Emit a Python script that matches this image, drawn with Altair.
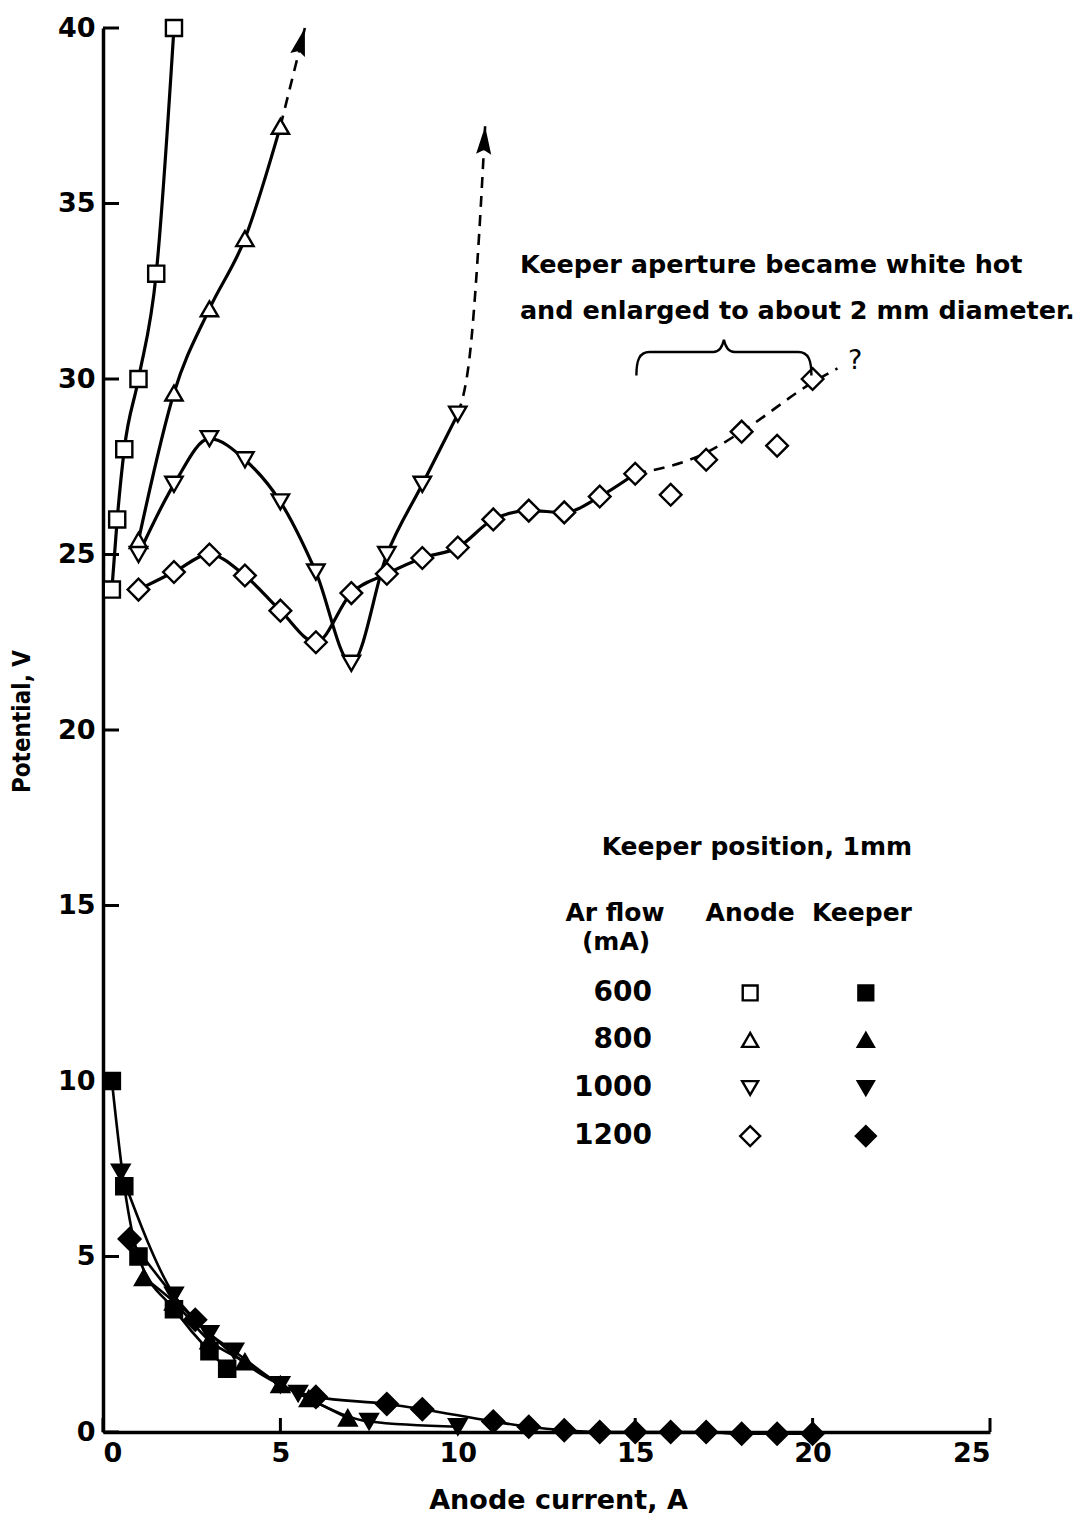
import altair as alt
import pandas as pd

# ---------------- data ----------------
# Anode potential (open symbols), keeper 1 mm from cathode
a600_x = [0.25, 0.4, 0.6, 1.0, 1.5, 2.0]
a600_y = [24.0, 26.0, 28.0, 30.0, 33.0, 40.0]

a800_x = [1.0, 2.0, 3.0, 4.0, 5.0]
a800_y = [25.4, 29.6, 32.0, 34.0, 37.2]
a800_ext_x = [5.0, 5.69]
a800_ext_y = [37.2, 40.0]

a1000_x = [1.0, 2.0, 3.0, 4.0, 5.0, 6.0, 7.0, 8.0, 9.0, 10.0]
a1000_y = [25.0, 27.0, 28.3, 27.7, 26.5, 24.5, 21.9, 25.0, 27.0, 29.0]
a1000_ext_x = [10.0, 10.4, 10.6, 10.77]
a1000_ext_y = [29.0, 31.3, 34.1, 37.2]

a1200_x = [1, 2, 3, 4, 5, 6, 7, 8, 9, 10, 11, 12, 13, 14, 15, 16, 17, 18, 19, 20]
a1200_y = [24.0, 24.5, 25.0, 24.4, 23.4, 22.5, 23.9, 24.45, 24.9, 25.2,
           26.0, 26.25, 26.2, 26.65, 27.3, 26.7, 27.7, 28.5, 28.1, 30.0]
a1200_solid_end = 15
a1200_ext_x = [15.0, 17.0, 18.0, 20.0, 20.7]
a1200_ext_y = [27.3, 27.9, 28.5, 29.9, 30.3]

# Keeper potential (filled symbols)
k600_x = [0.25, 0.6, 1.0, 2.0, 3.0, 3.5]
k600_y = [10.0, 7.0, 5.0, 3.5, 2.3, 1.8]

k800_x = [1.15, 2.0, 3.0, 4.0, 5.0, 5.8, 6.9]
k800_y = [4.4, 3.7, 2.6, 2.0, 1.35, 0.95, 0.4]

k1000_x = [0.5, 2.0, 3.0, 3.7, 5.0, 5.5, 7.5, 10.0]
k1000_y = [7.4, 3.9, 2.8, 2.3, 1.35, 1.1, 0.3, 0.15]

k1200_x = [0.75, 2.6, 6.0, 8.0, 9.0, 11.0, 12.0, 13.0, 14.0, 15.0, 16.0, 17.0, 18.0, 19.0, 20.0]
k1200_y = [5.5, 3.2, 1.0, 0.8, 0.65, 0.3, 0.15, 0.05, 0.0, 0.0, 0.0, 0.0, -0.05, -0.05, -0.05]

flows = ["600", "800", "1000", "1200"]
x_ticks = [0, 5, 10, 15, 20, 25]
y_ticks = [0, 5, 10, 15, 20, 25, 30, 35, 40]

# ---------------- layout ----------------
PLOT_W, PLOT_H = 887, 1404
FONT = "DejaVu Sans"
INK = "black"

X_SCALE = alt.Scale(domain=[0, 25], nice=False, zero=False)
Y_SCALE = alt.Scale(domain=[0, 40], nice=False, zero=False)

X_AXIS = alt.Axis(values=x_ticks, format="d", ticks=False, grid=False,
                  domainColor=INK, domainWidth=3.5, labelColor=INK,
                  labelFont=FONT, labelFontSize=27, labelFontWeight="bold",
                  labelPadding=8,
                  title="Anode current, A", titleFont=FONT, titleFontSize=27,
                  titleFontWeight="bold", titleColor=INK,
                  titleX=455, titleY=68, titleBaseline="middle")
Y_AXIS = alt.Axis(values=y_ticks, format="d", ticks=False, grid=False,
                  domainColor=INK, domainWidth=3.5, labelColor=INK,
                  labelFont=FONT, labelFontSize=27, labelFontWeight="bold",
                  labelPadding=8,
                  title="Potential, V", titleFont="DejaVu Sans Condensed",
                  titleFontSize=24, titleFontWeight="bold", titleColor=INK,
                  titleX=-81, titleY=693, titleBaseline="middle")


def X(field="x"):
    return alt.X(f"{field}:Q", scale=X_SCALE, axis=X_AXIS)


def Y(field="y"):
    return alt.Y(f"{field}:Q", scale=Y_SCALE, axis=Y_AXIS)


def frame(xs, ys):
    return pd.DataFrame({"x": xs, "y": ys})


def curve(xs, ys, dashed=False, width=3.2):
    kw = dict(color=INK, strokeWidth=width, interpolate="monotone")
    if dashed:
        kw["strokeDash"] = [11, 8]
    return alt.Chart(frame(xs, ys)).mark_line(**kw).encode(x=X(), y=Y())


def symbols(xs, ys, shape, size, filled):
    return alt.Chart(frame(xs, ys)).mark_point(
        shape=shape, size=size, filled=True,
        fill=INK if filled else "white", stroke=INK,
        strokeWidth=2.4, opacity=1,
    ).encode(x=X(), y=Y())


SHAPES = {"600": ("square", 260), "800": ("triangle-up", 300),
          "1000": ("triangle-down", 300), "1200": ("diamond", 470)}

layers = []

# anode curves
layers += [
    curve(a600_x, a600_y),
    curve(a800_x, a800_y),
    curve(a800_ext_x, a800_ext_y, dashed=True, width=2.6),
    curve(a1000_x, a1000_y),
    curve(a1000_ext_x, a1000_ext_y, dashed=True, width=2.6),
    curve([v for v in a1200_x if v <= a1200_solid_end],
          [y for v, y in zip(a1200_x, a1200_y) if v <= a1200_solid_end]),
    curve(a1200_ext_x, a1200_ext_y, dashed=True, width=2.6),
]

# keeper curves
layers += [
    curve(k600_x, k600_y, width=2.6),
    curve(k800_x, k800_y, width=2.6),
    curve(k1000_x, k1000_y, width=2.6),
    curve(k1200_x, k1200_y, width=2.6),
]

# arrow heads at the ends of the dashed extrapolations (tip at path origin)
ARROW = "M0,0L0.27,1L0,0.85L-0.27,1Z"
for ex, ey, ang in [(a800_ext_x, a800_ext_y, 15), (a1000_ext_x, a1000_ext_y, 3)]:
    layers.append(
        alt.Chart(frame([ex[-1]], [ey[-1]])).mark_point(
            shape=ARROW, size=3136, filled=True, color=INK, opacity=1, angle=ang
        ).encode(x=X(), y=Y())
    )

# symbols
for (xs, ys, f) in [(a600_x, a600_y, "600"), (a800_x, a800_y, "800"),
                    (a1000_x, a1000_y, "1000"), (a1200_x, a1200_y, "1200")]:
    shp, sz = SHAPES[f]
    layers.append(symbols(xs, ys, shp, sz, filled=False))
for (xs, ys, f) in [(k600_x, k600_y, "600"), (k800_x, k800_y, "800"),
                    (k1000_x, k1000_y, "1000"), (k1200_x, k1200_y, "1200")]:
    shp, sz = SHAPES[f]
    layers.append(symbols(xs, ys, shp, sz, filled=True))

# inward tick marks
layers.append(
    alt.Chart(pd.DataFrame({"x": x_ticks})).mark_rule(color=INK, strokeWidth=3)
    .encode(x=X(), y=alt.value(PLOT_H), y2=alt.value(PLOT_H - 14))
)
layers.append(
    alt.Chart(pd.DataFrame({"y": y_ticks})).mark_rule(color=INK, strokeWidth=3)
    .encode(y=Y(), x=alt.value(0), x2=alt.value(16))
)

# annotation about the keeper aperture
note = pd.DataFrame({
    "x": [11.75, 11.75],
    "y": [33.25, 31.94],
    "t": ["Keeper aperture became white hot",
          "and enlarged to about 2 mm diameter."],
})
layers.append(
    alt.Chart(note).mark_text(font=FONT, fontSize=25.5, fontWeight="bold",
                              align="left", baseline="middle", color=INK)
    .encode(x=X(), y=Y(), text="t:N")
)
BRACE = ("M-1,0.27 C-1,0.1 -0.97,0 -0.85,0 L-0.12,0 "
         "C-0.05,0 -0.02,-0.05 0,-0.14 C0.02,-0.05 0.05,0 0.12,0 "
         "L0.85,0 C0.97,0 1,0.1 1,0.27")
layers.append(
    alt.Chart(frame([17.5], [30.77])).mark_point(
        shape=BRACE, size=30625, filled=False, stroke=INK, strokeWidth=2.4,
        opacity=1
    ).encode(x=X(), y=Y())
)
layers.append(
    alt.Chart(pd.DataFrame({"x": [21.2], "y": [30.5], "t": ["?"]}))
    .mark_text(font=FONT, fontSize=27, align="center", baseline="middle", color=INK)
    .encode(x=X(), y=Y(), text="t:N")
)

# key table
KEY_ROW_Y = [12.51, 11.17, 9.80, 8.43]
KEY_FLOW_X, KEY_ANODE_X, KEY_KEEPER_X = 15.47, 18.24, 21.5
key_head = pd.DataFrame({
    "x": [18.43, 14.43, 14.46, 18.24, 21.39],
    "y": [16.67, 14.79, 13.96, 14.79, 14.79],
    "t": ["Keeper position, 1mm", "Ar flow", "(mA)", "Anode", "Keeper"],
})
layers.append(
    alt.Chart(key_head).mark_text(font=FONT, fontSize=25, fontWeight="bold",
                                  align="center", baseline="middle", color=INK)
    .encode(x=X(), y=Y(), text="t:N")
)
layers.append(
    alt.Chart(pd.DataFrame({"x": [KEY_FLOW_X] * 4, "y": KEY_ROW_Y, "t": flows}))
    .mark_text(font=FONT, fontSize=28, fontWeight="bold", align="right",
               baseline="middle", color=INK)
    .encode(x=X(), y=Y(), text="t:N")
)
for f, ry in zip(flows, KEY_ROW_Y):
    shp, sz = SHAPES[f]
    layers.append(symbols([KEY_ANODE_X], [ry], shp, sz * 0.85, filled=False))
    layers.append(symbols([KEY_KEEPER_X], [ry], shp, sz * 0.85, filled=True))

chart = alt.layer(*layers).properties(
    width=PLOT_W, height=PLOT_H,
    background="white",
    autosize=alt.AutoSizeParams(type="none"),
    padding={"left": 103, "top": 28, "right": 92, "bottom": 83},
).configure_view(strokeWidth=0)

chart.save("out.html", embed_options={"renderer": "svg", "actions": False})
